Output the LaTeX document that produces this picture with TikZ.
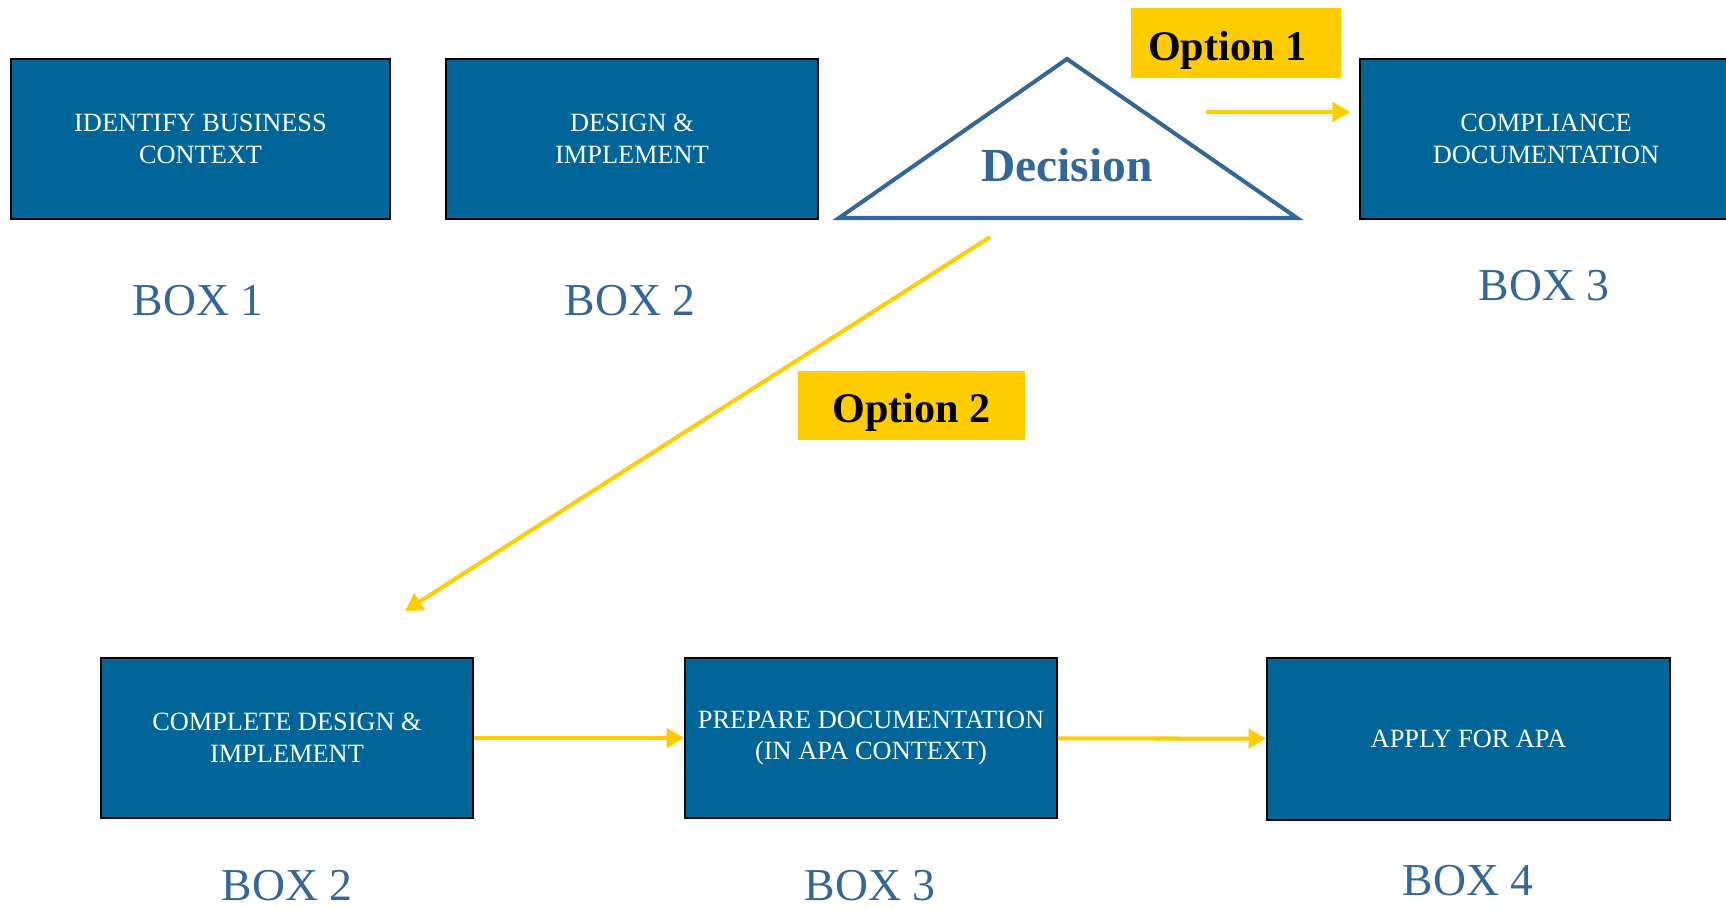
\documentclass[tikz,border=0pt]{standalone}
\usepackage{fontspec}
\setmainfont{Liberation Serif}
\usetikzlibrary{arrows.meta,positioning}

\definecolor{boxblue}{RGB}{0,102,153}
\definecolor{labelblue}{RGB}{51,102,153}
\definecolor{optyellow}{RGB}{255,204,0}

\begin{document}
\begin{tikzpicture}[x=0.02cm,y=-0.02cm,
                    stepbox/.style={draw=black,line width=1.1pt,fill=boxblue,text=white,
                      minimum height=3.2cm,align=center,inner sep=0pt,
                      font=\fontsize{15}{18}\selectfont},
                    boxlabel/.style={text=labelblue,font=\fontsize{26}{30}\selectfont},
                    option/.style={fill=optyellow,minimum height=1.4cm,text height=20pt,text depth=0.5pt,
                      font=\fontsize{24}{28}\selectfont\bfseries},
                    flow/.style={-{Triangle[length=10pt,width=11pt]},draw=optyellow,line width=2.3pt}]

  \clip (0,0) rectangle (1726,908);

  % top row
  \node[stepbox,minimum width=7.58cm] (b1) at (200.5,139) {IDENTIFY BUSINESS\\CONTEXT};
  \node[stepbox,minimum width=7.44cm] (b2) at (632,139)   {DESIGN \&\\IMPLEMENT};
  \node[stepbox,minimum width=7.44cm] (b3) at (1546,139)  {COMPLIANCE\\DOCUMENTATION};

  \node[boxlabel] (l1) at (198,301)  {BOX 1};
  \node[boxlabel] (l2) at (630,301)  {BOX 2};
  \node[boxlabel] (l3) at (1544,286) {BOX 3};

  % decision
  \coordinate (top)   at (1067,59);
  \coordinate (left)  at (839,218);
  \coordinate (right) at (1297,218);
  \draw[draw=labelblue,line width=2.3pt,line join=miter] (left) -- (top) -- (right) -- cycle;
  \node[text=labelblue,font=\fontsize{27}{30}\selectfont\bfseries] (dec) at (1067,165) {Decision};

  \node[option,minimum width=4.2cm]  (o1) at (1236,43)    {\hspace*{-10pt}Option 1};
  \node[option,minimum width=4.54cm] (o2) at (911.5,405.5) {Option 2};

  \coordinate (o1s) at (1206,112);
  \coordinate (o1e) at (1350,112);
  \coordinate (o2s) at (990,237);
  \coordinate (o2e) at (405,611);

  % bottom row
  \node[stepbox,minimum width=7.44cm] (c1) at (287,738)    {COMPLETE DESIGN \&\\IMPLEMENT};
  \node[stepbox,minimum width=7.44cm] (c2) at (871,738)    {PREPARE DOCUMENTATION\\(IN APA CONTEXT)};
  \node[stepbox,minimum width=8.06cm,minimum height=3.24cm] (c3) at (1468.5,739) {APPLY FOR APA};

  \node[boxlabel] (m1) at (287,886)  {BOX 2};
  \node[boxlabel] (m2) at (870,886)  {BOX 3};
  \node[boxlabel] (m3) at (1468,881) {BOX 4};

  \path (o1s) edge[flow] (o1e)
        (o2s) edge[flow] (o2e)
        (c1)  edge[flow] (c2)
        (c2)  edge[flow] (c3);
\end{tikzpicture}
\end{document}
